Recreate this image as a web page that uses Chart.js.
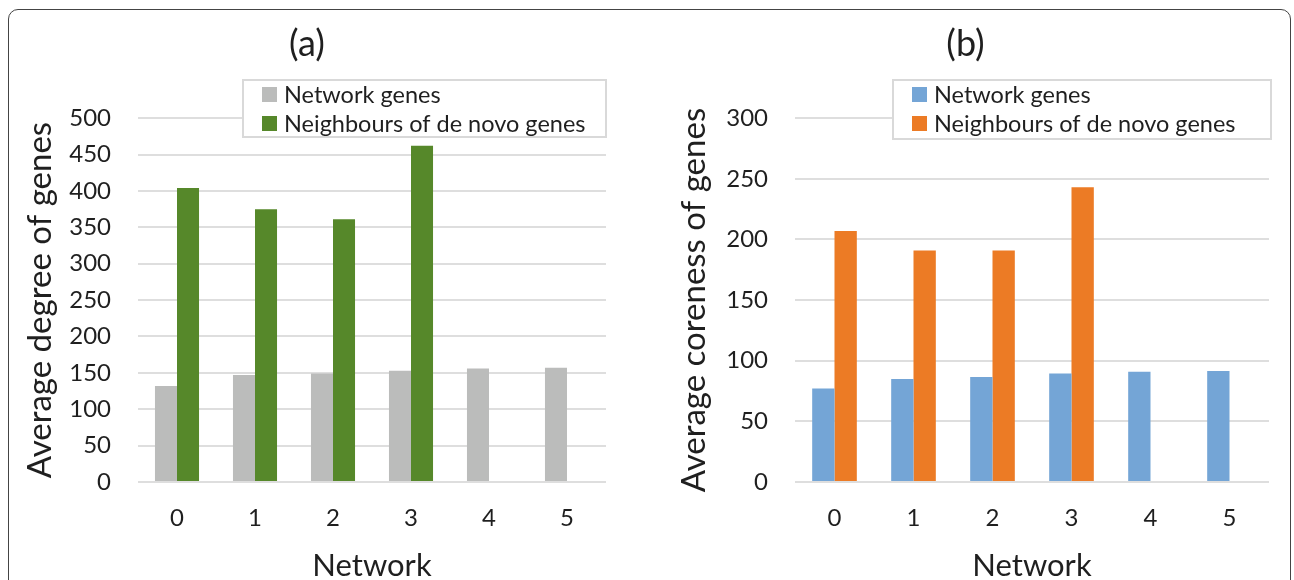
<!DOCTYPE html>
<html>
<head>
<meta charset="utf-8">
<script src="https://cdn.jsdelivr.net/npm/chart.js@4"></script>
<style>
  html, body { margin: 0; padding: 0; background: #fff; overflow: hidden; }
  body { width: 1294px; height: 580px; position: relative; }
  #frame {
    position: absolute; left: 8px; top: 9px; width: 1283px; height: 600px;
    border: 1px solid #444; border-radius: 10px; box-sizing: border-box;
  }
  .panel { position: absolute; top: 0; height: 582px; }
  #panelA { left: 8px; width: 600px; }
  #panelB { left: 662px; width: 612px; }
</style>
</head>
<body>
<div id="frame"></div>
<div class="panel" id="panelA"><canvas id="chartA"></canvas></div>
<div class="panel" id="panelB"><canvas id="chartB"></canvas></div>
<script>
// Categories (network index)
const networks = ['0', '1', '2', '3', '4', '5'];

// (a) Average degree
const degreeNetworkGenes = [132, 147, 149, 153, 156, 157];
const degreeNeighbours = [404, 375, 361, 462, null, null];

// (b) Average coreness
const corenessNetworkGenes = [77, 85, 86.5, 89.5, 91, 91.5];
const corenessNeighbours = [207, 191, 191, 243, null, null];

const seriesNames = ['Network genes', 'Neighbours of de novo genes'];
const FONT = 'Lato, "Noto Sans", sans-serif';
const TEXT = '#1f1f1f';

// Draws an Excel-style boxed legend inside the plot area
const boxedLegend = {
    id: 'boxedLegend',
    afterDraw(chart, args, opts) {
        const ctx = chart.ctx;
        const area = chart.chartArea;
        const x = area.left + opts.x, y = opts.y;
        ctx.save();
        ctx.fillStyle = '#fff';
        ctx.fillRect(x, y, opts.w, opts.h);
        ctx.strokeStyle = '#d9d9d9';
        ctx.lineWidth = 2;
        ctx.strokeRect(x, y, opts.w, opts.h);
        ctx.font = '23.5px ' + FONT;
        ctx.textBaseline = 'middle';
        chart.data.datasets.forEach((ds, i) => {
            const cy = y + 14 + i * 29;
            ctx.fillStyle = ds.backgroundColor;
            ctx.fillRect(x + 19, cy - 7, 15, 15);
            ctx.fillStyle = TEXT;
            ctx.fillText(ds.label, x + 41, cy + 1);
        });
        ctx.restore();
    }
};

function makeChart(id, title, yTitle, netVals, nbVals, colors, yMax, yWidth, padRight, legendPos) {
    return new Chart(document.getElementById(id), {
        type: 'bar',
        data: {
            labels: networks,
            datasets: [
                { label: seriesNames[0], data: netVals, backgroundColor: colors[0] },
                { label: seriesNames[1], data: nbVals, backgroundColor: colors[1] }
            ]
        },
        options: {
            responsive: true,
            maintainAspectRatio: false,
            animation: false,
            categoryPercentage: 0.565,
            barPercentage: 1,
            layout: { padding: { top: 0, right: padRight, bottom: 0, left: 0 } },
            plugins: {
                legend: { display: false },
                tooltip: { enabled: false },
                title: {
                    display: true,
                    text: title,
                    color: TEXT,
                    font: { family: FONT, size: 36, weight: 'normal', lineHeight: 1.2 },
                    padding: { top: 23, bottom: 52 }
                },
                boxedLegend: legendPos
            },
            scales: {
                x: {
                    grid: { display: false, drawTicks: false },
                    border: { display: false },
                    ticks: { color: TEXT, padding: 22, font: { family: FONT, size: 24 } },
                    title: {
                        display: true,
                        text: 'Network',
                        color: TEXT,
                        font: { family: FONT, size: 31, lineHeight: 1 },
                        padding: { top: 0, bottom: 1 }
                    },
                    afterFit: s => { s.height = 100; }
                },
                y: {
                    min: 0,
                    max: yMax,
                    grid: { color: '#dedede', lineWidth: 2, drawTicks: false },
                    border: { display: false },
                    ticks: { stepSize: 50, color: TEXT, padding: 27, font: { family: FONT, size: 24 } },
                    title: {
                        display: true,
                        text: yTitle,
                        color: TEXT,
                        font: { family: FONT, size: 33, lineHeight: 1.2 },
                        padding: { top: 13, bottom: 0 }
                    },
                    afterFit: s => { s.width = yWidth; }
                }
            }
        },
        plugins: [boxedLegend]
    });
}

makeChart('chartA', '(a)', 'Average degree of genes',
    degreeNetworkGenes, degreeNeighbours, ['#bbbcbb', '#56882a'],
    500, 130, 2, { x: 105, y: 80, w: 363, h: 57 });

makeChart('chartB', '(b)', 'Average coreness of genes',
    corenessNetworkGenes, corenessNeighbours, ['#74a5d6', '#ec7b25'],
    300, 133, 5, { x: 98, y: 80, w: 378, h: 59 });
</script>
</body>
</html>
